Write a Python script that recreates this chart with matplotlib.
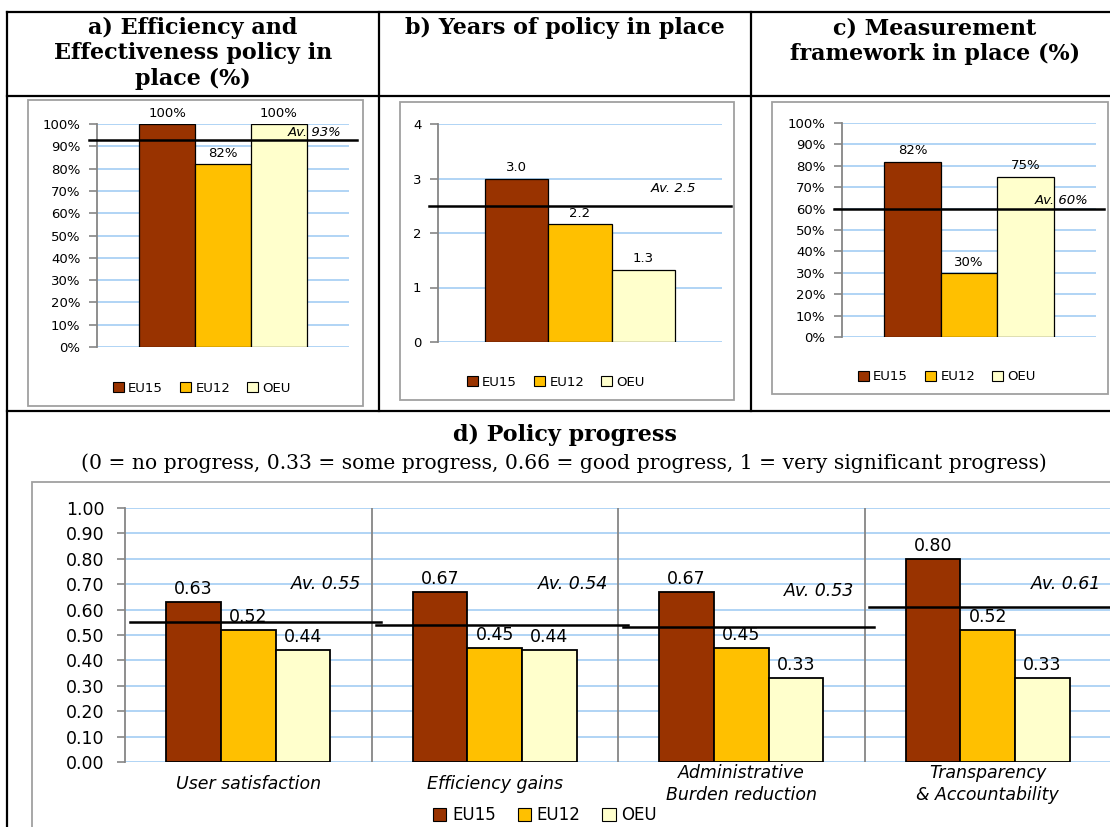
import matplotlib
matplotlib.use("Agg")
import matplotlib.pyplot as plt
from matplotlib.patches import Patch, Rectangle
from matplotlib.lines import Line2D

# datos
groups = ["EU15", "EU12", "OEU"]
colors = ["#993300", "#ffc000", "#ffffcc"]

eff_policy = [1.00, 0.82, 1.00]
eff_policy_avg = 0.93

years_policy = [3.0, 2.17, 1.33]
years_policy_avg = 2.5

measurement = [0.82, 0.30, 0.75]
measurement_avg = 0.60

progress_cats = ["User satisfaction", "Efficiency gains",
                 "Administrative\nBurden reduction", "Transparency\n& Accountability"]
progress_eu15 = [0.63, 0.67, 0.67, 0.80]
progress_eu12 = [0.52, 0.45, 0.45, 0.52]
progress_oeu = [0.44, 0.44, 0.33, 0.33]
progress_avg = [0.55, 0.54, 0.53, 0.61]

W, H = 1110, 827
GRID = "#a3cdf3"
AXC = "#868686"
BW = 0.222  # ancho de barra (grupo = 2/3 de la categoria)

plt.rcParams["font.family"] = ["DejaVu Sans"]
fig = plt.figure(figsize=(W / 100, H / 100), dpi=100)


def box(x0, y0, x1, y1):
    """ pixel box -> fig rect """
    return [x0 / W, 1 - y1 / H, (x1 - x0) / W, (y1 - y0) / H]


def fig_line(x0, y0, x1, y1, color="black", lw=1.6):
    fig.add_artist(Line2D([x0 / W, x1 / W], [1 - y0 / H, 1 - y1 / H],
                          color=color, lw=lw, transform=fig.transFigure))


def fig_rect(x0, y0, x1, y1):
    fig.add_artist(Rectangle((x0 / W, 1 - y1 / H), (x1 - x0) / W, (y1 - y0) / H,
                             fill=False, ec="#a0a0a0", lw=1.3, transform=fig.transFigure))


def style_axes(ax, ticksize):
    for s in ["top", "right", "bottom"]:
        ax.spines[s].set_visible(False)
    ax.spines["left"].set_color(AXC)
    ax.spines["left"].set_linewidth(1.3)
    ax.yaxis.grid(True, color=GRID, lw=1.2)
    ax.set_axisbelow(True)
    ax.tick_params(axis="y", colors=AXC, length=6, width=1.2, labelsize=ticksize,
                   labelcolor="black", pad=6)
    ax.tick_params(axis="x", length=0, labelbottom=False)


def add_legend(cx, cy, size):
    handles = [Patch(fc=c, ec="black", lw=0.8) for c in colors]
    fig.legend(handles, groups, loc="center", bbox_to_anchor=(cx / W, 1 - cy / H),
               ncol=3, frameon=False, fontsize=size, handlelength=0.8, handleheight=0.8,
               handletextpad=0.35, columnspacing=1.3)


def small_panel(rect, values, avg, ymax, yticks, fmt, tickfmt, av_x, av_off):
    ax = fig.add_axes(box(*rect))
    for i, v in enumerate(values):
        ax.bar((i - 1) * BW, v, BW, color=colors[i], ec="black", lw=0.9)
        ax.annotate(fmt.format(v), (((i - 1) * BW), v), xytext=(0, 3),
                    textcoords="offset points", ha="center", va="bottom", fontsize=9.5)
    ax.set_xlim(-0.5, 0.5)
    ax.set_ylim(0, ymax)
    ax.set_yticks(yticks)
    ax.set_yticklabels([tickfmt.format(t) for t in yticks])
    style_axes(ax, 9.5)
    ax.plot([-0.53, 0.53], [avg, avg], color="black", lw=1.8, clip_on=False, zorder=5)
    ax.annotate("Av. " + fmt.format(avg), (av_x, avg), xytext=(0, av_off),
                textcoords="offset pixels", ha="right", va="bottom",
                fontsize=9.5, style="italic", zorder=6)
    return ax


# panel a
small_panel((97, 124, 349, 347), eff_policy, eff_policy_avg, 1.0,
            [i / 10 for i in range(11)], "{:.0%}", "{:.0%}", 0.47, 1)
# panel b
small_panel((438, 124, 722, 342), years_policy, years_policy_avg, 4,
            [0, 1, 2, 3, 4], "{:.1f}", "{}", 0.41, 11)
# panel c
small_panel((842, 123, 1096, 337), measurement, measurement_avg, 1.0,
            [i / 10 for i in range(11)], "{:.0%}", "{:.0%}", 0.47, 2)

# panel d
axd = fig.add_axes(box(125, 508, 1111, 762))
series = [progress_eu15, progress_eu12, progress_oeu]
for j, vals in enumerate(series):
    for i, v in enumerate(vals):
        x = i + (j - 1) * BW
        axd.bar(x, v, BW, color=colors[j], ec="black", lw=1.3)
        axd.annotate("{:.2f}".format(v), (x, v), xytext=(0, 4), textcoords="offset pixels",
                     ha="center", va="bottom", fontsize=12.5)
axd.set_xlim(-0.5, 3.5)
axd.set_ylim(0, 1.0)
axd.set_yticks([i / 10 for i in range(11)])
axd.set_yticklabels(["{:.2f}".format(i / 10) for i in range(11)])
style_axes(axd, 12.5)
axd.tick_params(axis="y", pad=9)
for i in range(3):
    axd.axvline(i + 0.5, color=AXC, lw=1.3)
av_text_y = [0.70, 0.70, 0.675, 0.70]
for i, a in enumerate(progress_avg):
    axd.plot([i - 0.48, i + 0.54], [a, a], color="black", lw=1.8, clip_on=False, zorder=5)
    axd.text(i + 0.46, av_text_y[i], "Av. {:.2f}".format(a), ha="right", va="center",
             fontsize=12.5, style="italic", zorder=6)
    axd.annotate(progress_cats[i], (i, 0), xytext=(0, -22), textcoords="offset pixels",
                 ha="center", va="center", fontsize=12.5, style="italic", linespacing=1.3,
                 annotation_clip=False)

# legends
add_legend(202, 388, 9.5)
add_legend(556, 382, 9.5)
add_legend(947, 377, 9.5)
add_legend(545, 815, 12)

# chart boxes
fig_rect(28, 100, 363, 406)
fig_rect(400, 102, 734, 400)
fig_rect(772, 102, 1108, 394)
fig_rect(32, 482, 1120, 840)

# tabla
for y in [12, 96, 411]:
    fig_line(7, y, 1110, y)
fig_line(7, 12, 7, 827)
fig_line(379, 12, 379, 411)
fig_line(751, 12, 751, 411)

# titulos
hdr = dict(ha="center", va="top", fontsize=16, fontweight="bold",
           family="DejaVu Serif", linespacing=1.2)
fig.text(193 / W, 1 - 17 / H, "a) Efficiency and\nEffectiveness policy in\nplace (%)", **hdr)
fig.text(565 / W, 1 - 17 / H, "b) Years of policy in place", **hdr)
fig.text(935 / W, 1 - 17 / H, "c) Measurement\nframework in place (%)", **hdr)
fig.text(565 / W, 1 - 435 / H, "d) Policy progress", ha="center", va="center",
         fontsize=16, fontweight="bold", family="DejaVu Serif")
fig.text(564 / W, 1 - 463 / H,
         "(0 = no progress, 0.33 = some progress, 0.66 = good progress, 1 = very significant progress)",
         ha="center", va="center", fontsize=14.6, family="DejaVu Serif")

fig.savefig("out.png", dpi=100)
